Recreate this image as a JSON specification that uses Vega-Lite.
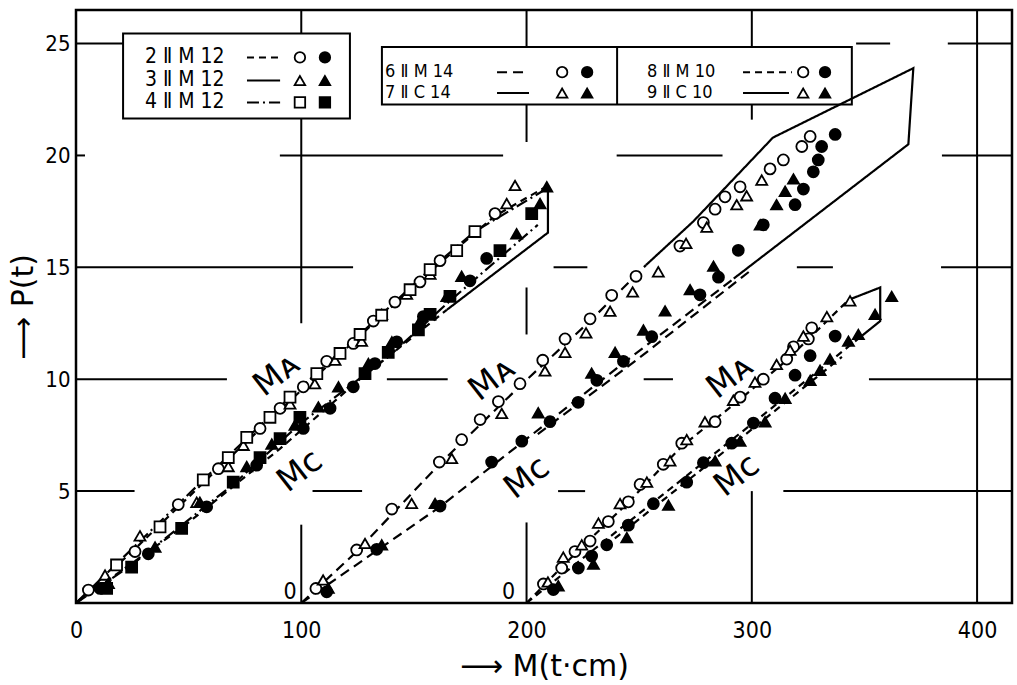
{
  "$schema": "https://vega.github.io/schema/vega-lite/v6.json",
  "width": 936,
  "height": 593,
  "autosize": "none",
  "padding": {"left": 76, "top": 10, "right": 5, "bottom": 82},
  "background": "white",
  "config": {
    "view": {"stroke": "black", "strokeWidth": 2.5},
    "font": "DejaVu Sans",
    "axis": {"labelFont": "DejaVu Sans Condensed, DejaVu Sans", "titleFont": "DejaVu Sans", "labelColor": "black", "titleColor": "black"}
  },
  "datasets": {
    "points": [
      {"x":5.5,"y":0.58,"series":"2","branch":"MA"},{"x":26.2,"y":2.3,"series":"2","branch":"MA"},{"x":45.4,"y":4.4,"series":"2","branch":"MA"},{"x":63.2,"y":6.0,"series":"2","branch":"MA"},{"x":81.7,"y":7.8,"series":"2","branch":"MA"},{"x":90.6,"y":8.7,"series":"2","branch":"MA"},{"x":100.9,"y":9.66,"series":"2","branch":"MA"},{"x":111.3,"y":10.8,"series":"2","branch":"MA"},{"x":123.1,"y":11.6,"series":"2","branch":"MA"},{"x":132,"y":12.6,"series":"2","branch":"MA"},{"x":141.6,"y":13.45,"series":"2","branch":"MA"},{"x":152.7,"y":14.35,"series":"2","branch":"MA"},{"x":161.6,"y":15.3,"series":"2","branch":"MA"},{"x":186,"y":17.4,"series":"2","branch":"MA"},
      {"x":12.9,"y":1.25,"series":"3","branch":"MA"},{"x":28.4,"y":3.0,"series":"3","branch":"MA"},{"x":53.6,"y":4.5,"series":"3","branch":"MA"},{"x":67.6,"y":6.1,"series":"3","branch":"MA"},{"x":74.3,"y":7.05,"series":"3","branch":"MA"},{"x":95,"y":8.9,"series":"3","branch":"MA"},{"x":106,"y":9.8,"series":"3","branch":"MA"},{"x":115,"y":10.85,"series":"3","branch":"MA"},{"x":126.8,"y":11.7,"series":"3","branch":"MA"},{"x":135.7,"y":12.9,"series":"3","branch":"MA"},{"x":146.8,"y":13.8,"series":"3","branch":"MA"},{"x":157.2,"y":14.7,"series":"3","branch":"MA"},{"x":191.2,"y":17.85,"series":"3","branch":"MA"},{"x":194.9,"y":18.66,"series":"3","branch":"MA"},
      {"x":18,"y":1.7,"series":"4","branch":"MA"},{"x":37.3,"y":3.4,"series":"4","branch":"MA"},{"x":56.5,"y":5.5,"series":"4","branch":"MA"},{"x":67.6,"y":6.5,"series":"4","branch":"MA"},{"x":75.8,"y":7.4,"series":"4","branch":"MA"},{"x":86.1,"y":8.3,"series":"4","branch":"MA"},{"x":95,"y":9.2,"series":"4","branch":"MA"},{"x":106.9,"y":10.25,"series":"4","branch":"MA"},{"x":117.2,"y":11.15,"series":"4","branch":"MA"},{"x":126.1,"y":12.0,"series":"4","branch":"MA"},{"x":135.7,"y":12.86,"series":"4","branch":"MA"},{"x":148.3,"y":14.0,"series":"4","branch":"MA"},{"x":157.2,"y":14.9,"series":"4","branch":"MA"},{"x":169,"y":15.75,"series":"4","branch":"MA"},{"x":177.1,"y":16.6,"series":"4","branch":"MA"},
      {"x":10.7,"y":0.65,"series":"2","branch":"MC"},{"x":32.1,"y":2.2,"series":"2","branch":"MC"},{"x":58,"y":4.3,"series":"2","branch":"MC"},{"x":80.2,"y":6.16,"series":"2","branch":"MC"},{"x":100.9,"y":7.8,"series":"2","branch":"MC"},{"x":112.8,"y":8.7,"series":"2","branch":"MC"},{"x":123.1,"y":9.66,"series":"2","branch":"MC"},{"x":132.7,"y":10.7,"series":"2","branch":"MC"},{"x":142.4,"y":11.67,"series":"2","branch":"MC"},{"x":154.2,"y":12.8,"series":"2","branch":"MC"},{"x":174.9,"y":14.4,"series":"2","branch":"MC"},{"x":182.3,"y":15.4,"series":"2","branch":"MC"},
      {"x":14.4,"y":0.88,"series":"3","branch":"MC"},{"x":35.1,"y":2.5,"series":"3","branch":"MC"},{"x":55,"y":4.5,"series":"3","branch":"MC"},{"x":75.8,"y":6.1,"series":"3","branch":"MC"},{"x":86.9,"y":7.1,"series":"3","branch":"MC"},{"x":97.2,"y":7.95,"series":"3","branch":"MC"},{"x":107.6,"y":8.76,"series":"3","branch":"MC"},{"x":116.5,"y":9.66,"series":"3","branch":"MC"},{"x":129.8,"y":10.7,"series":"3","branch":"MC"},{"x":140.2,"y":11.67,"series":"3","branch":"MC"},{"x":152.7,"y":12.6,"series":"3","branch":"MC"},{"x":164.6,"y":13.7,"series":"3","branch":"MC"},{"x":171.2,"y":14.6,"series":"3","branch":"MC"},{"x":195.6,"y":16.5,"series":"3","branch":"MC"},{"x":206,"y":17.85,"series":"3","branch":"MC"},{"x":209,"y":18.6,"series":"3","branch":"MC"},
      {"x":13.6,"y":0.65,"series":"4","branch":"MC"},{"x":24.7,"y":1.6,"series":"4","branch":"MC"},{"x":46.9,"y":3.33,"series":"4","branch":"MC"},{"x":69.8,"y":5.4,"series":"4","branch":"MC"},{"x":81.7,"y":6.5,"series":"4","branch":"MC"},{"x":90.6,"y":7.35,"series":"4","branch":"MC"},{"x":99.4,"y":8.3,"series":"4","branch":"MC"},{"x":128.3,"y":10.25,"series":"4","branch":"MC"},{"x":138.6,"y":11.2,"series":"4","branch":"MC"},{"x":152,"y":12.2,"series":"4","branch":"MC"},{"x":157.2,"y":12.9,"series":"4","branch":"MC"},{"x":166,"y":13.7,"series":"4","branch":"MC"},{"x":188.2,"y":15.75,"series":"4","branch":"MC"},{"x":202.3,"y":17.4,"series":"4","branch":"MC"},
      {"x":106.5,"y":0.65,"series":"6","branch":"MA"},{"x":124.6,"y":2.37,"series":"6","branch":"MA"},{"x":140.2,"y":4.2,"series":"6","branch":"MA"},{"x":161.3,"y":6.3,"series":"6","branch":"MA"},{"x":171.2,"y":7.3,"series":"6","branch":"MA"},{"x":179.4,"y":8.2,"series":"6","branch":"MA"},{"x":187.5,"y":9.0,"series":"6","branch":"MA"},{"x":197.1,"y":9.8,"series":"6","branch":"MA"},{"x":207.2,"y":10.85,"series":"6","branch":"MA"},{"x":217.1,"y":11.8,"series":"6","branch":"MA"},{"x":228.2,"y":12.7,"series":"6","branch":"MA"},{"x":237.8,"y":13.75,"series":"6","branch":"MA"},{"x":248.6,"y":14.6,"series":"6","branch":"MA"},{"x":268.1,"y":15.95,"series":"6","branch":"MA"},{"x":278.5,"y":17.0,"series":"6","branch":"MA"},{"x":283.7,"y":17.6,"series":"6","branch":"MA"},{"x":288.1,"y":18.15,"series":"6","branch":"MA"},{"x":294.8,"y":18.6,"series":"6","branch":"MA"},{"x":308.1,"y":19.4,"series":"6","branch":"MA"},{"x":314,"y":19.8,"series":"6","branch":"MA"},{"x":322.2,"y":20.4,"series":"6","branch":"MA"},{"x":325.9,"y":20.85,"series":"6","branch":"MA"},
      {"x":109.7,"y":1.03,"series":"7","branch":"MA"},{"x":128.3,"y":2.66,"series":"7","branch":"MA"},{"x":149,"y":4.45,"series":"7","branch":"MA"},{"x":166.8,"y":6.46,"series":"7","branch":"MA"},{"x":189,"y":8.47,"series":"7","branch":"MA"},{"x":208.2,"y":10.37,"series":"7","branch":"MA"},{"x":217.1,"y":11.2,"series":"7","branch":"MA"},{"x":226.4,"y":12.07,"series":"7","branch":"MA"},{"x":237.1,"y":13.04,"series":"7","branch":"MA"},{"x":247.1,"y":13.9,"series":"7","branch":"MA"},{"x":258.5,"y":14.8,"series":"7","branch":"MA"},{"x":270.8,"y":16.07,"series":"7","branch":"MA"},{"x":280,"y":16.8,"series":"7","branch":"MA"},{"x":293.3,"y":17.8,"series":"7","branch":"MA"},{"x":297.7,"y":18.2,"series":"7","branch":"MA"},{"x":304.4,"y":18.9,"series":"7","branch":"MA"},
      {"x":111.3,"y":0.5,"series":"6","branch":"MC"},{"x":133.5,"y":2.4,"series":"6","branch":"MC"},{"x":161.6,"y":4.33,"series":"6","branch":"MC"},{"x":184.5,"y":6.3,"series":"6","branch":"MC"},{"x":197.9,"y":7.23,"series":"6","branch":"MC"},{"x":210.4,"y":8.1,"series":"6","branch":"MC"},{"x":222.9,"y":8.97,"series":"6","branch":"MC"},{"x":231.2,"y":9.95,"series":"6","branch":"MC"},{"x":243,"y":10.8,"series":"6","branch":"MC"},{"x":255.6,"y":11.9,"series":"6","branch":"MC"},{"x":277,"y":13.77,"series":"6","branch":"MC"},{"x":285.2,"y":14.56,"series":"6","branch":"MC"},{"x":294,"y":15.76,"series":"6","branch":"MC"},{"x":305.1,"y":16.9,"series":"6","branch":"MC"},{"x":319.2,"y":17.8,"series":"6","branch":"MC"},{"x":322.9,"y":18.5,"series":"6","branch":"MC"},{"x":327.3,"y":19.27,"series":"6","branch":"MC"},{"x":329.5,"y":19.8,"series":"6","branch":"MC"},{"x":331,"y":20.4,"series":"6","branch":"MC"},{"x":337,"y":20.94,"series":"6","branch":"MC"},
      {"x":112,"y":0.66,"series":"7","branch":"MC"},{"x":135.7,"y":2.6,"series":"7","branch":"MC"},{"x":159.4,"y":4.45,"series":"7","branch":"MC"},{"x":205.2,"y":8.5,"series":"7","branch":"MC"},{"x":228.9,"y":10.27,"series":"7","branch":"MC"},{"x":239.3,"y":11.2,"series":"7","branch":"MC"},{"x":251.9,"y":12.2,"series":"7","branch":"MC"},{"x":261.5,"y":13.05,"series":"7","branch":"MC"},{"x":272.6,"y":14.0,"series":"7","branch":"MC"},{"x":283,"y":15.05,"series":"7","branch":"MC"},{"x":303.7,"y":16.9,"series":"7","branch":"MC"},{"x":311,"y":17.8,"series":"7","branch":"MC"},{"x":314.8,"y":18.4,"series":"7","branch":"MC"},{"x":318.5,"y":18.95,"series":"7","branch":"MC"},
      {"x":207.5,"y":0.85,"series":"8","branch":"MA"},{"x":215.6,"y":1.56,"series":"8","branch":"MA"},{"x":221.5,"y":2.3,"series":"8","branch":"MA"},{"x":228.2,"y":2.77,"series":"8","branch":"MA"},{"x":236.3,"y":3.64,"series":"8","branch":"MA"},{"x":245.2,"y":4.52,"series":"8","branch":"MA"},{"x":250.4,"y":5.3,"series":"8","branch":"MA"},{"x":260.7,"y":6.2,"series":"8","branch":"MA"},{"x":268.9,"y":7.14,"series":"8","branch":"MA"},{"x":283.7,"y":8.1,"series":"8","branch":"MA"},{"x":294.8,"y":9.2,"series":"8","branch":"MA"},{"x":305.1,"y":10.0,"series":"8","branch":"MA"},{"x":315.5,"y":10.9,"series":"8","branch":"MA"},{"x":318.5,"y":11.45,"series":"8","branch":"MA"},{"x":325.1,"y":11.8,"series":"8","branch":"MA"},{"x":326.6,"y":12.3,"series":"8","branch":"MA"},
      {"x":209.5,"y":0.94,"series":"9","branch":"MA"},{"x":216.3,"y":2.05,"series":"9","branch":"MA"},{"x":224.5,"y":2.6,"series":"9","branch":"MA"},{"x":231.9,"y":3.57,"series":"9","branch":"MA"},{"x":241.5,"y":4.44,"series":"9","branch":"MA"},{"x":253.4,"y":5.4,"series":"9","branch":"MA"},{"x":263.7,"y":6.35,"series":"9","branch":"MA"},{"x":271.1,"y":7.3,"series":"9","branch":"MA"},{"x":279.2,"y":8.1,"series":"9","branch":"MA"},{"x":291.8,"y":9.06,"series":"9","branch":"MA"},{"x":301.4,"y":9.87,"series":"9","branch":"MA"},{"x":311,"y":10.66,"series":"9","branch":"MA"},{"x":317,"y":11.3,"series":"9","branch":"MA"},{"x":322.9,"y":11.93,"series":"9","branch":"MA"},{"x":333.3,"y":12.8,"series":"9","branch":"MA"},{"x":343.6,"y":13.5,"series":"9","branch":"MA"},
      {"x":211.9,"y":0.6,"series":"8","branch":"MC"},{"x":223,"y":1.56,"series":"8","branch":"MC"},{"x":228.9,"y":2.1,"series":"8","branch":"MC"},{"x":235.6,"y":2.6,"series":"8","branch":"MC"},{"x":245.2,"y":3.48,"series":"8","branch":"MC"},{"x":256.3,"y":4.44,"series":"8","branch":"MC"},{"x":271.1,"y":5.4,"series":"8","branch":"MC"},{"x":278.5,"y":6.27,"series":"8","branch":"MC"},{"x":291.1,"y":7.14,"series":"8","branch":"MC"},{"x":300.7,"y":8.04,"series":"8","branch":"MC"},{"x":310.3,"y":9.15,"series":"8","branch":"MC"},{"x":319.2,"y":10.18,"series":"8","branch":"MC"},{"x":325.9,"y":11.05,"series":"8","branch":"MC"},{"x":337,"y":11.93,"series":"8","branch":"MC"},
      {"x":214.1,"y":0.77,"series":"9","branch":"MC"},{"x":229.7,"y":1.74,"series":"9","branch":"MC"},{"x":244.5,"y":2.92,"series":"9","branch":"MC"},{"x":263,"y":4.37,"series":"9","branch":"MC"},{"x":283.7,"y":6.35,"series":"9","branch":"MC"},{"x":294.8,"y":7.23,"series":"9","branch":"MC"},{"x":305.9,"y":8.1,"series":"9","branch":"MC"},{"x":314.8,"y":9.15,"series":"9","branch":"MC"},{"x":325.9,"y":9.95,"series":"9","branch":"MC"},{"x":330.3,"y":10.4,"series":"9","branch":"MC"},{"x":334.7,"y":10.9,"series":"9","branch":"MC"},{"x":342.9,"y":11.7,"series":"9","branch":"MC"},{"x":347.3,"y":12.0,"series":"9","branch":"MC"},{"x":354.7,"y":12.9,"series":"9","branch":"MC"},{"x":362.1,"y":13.7,"series":"9","branch":"MC"}
    ],
    "curves": [
      {"curve":"A-MA-2","series":"2","i":0,"x":0,"y":0},{"curve":"A-MA-2","series":"2","i":1,"x":26,"y":2.4},{"curve":"A-MA-2","series":"2","i":2,"x":63,"y":6.0},{"curve":"A-MA-2","series":"2","i":3,"x":101,"y":9.6},{"curve":"A-MA-2","series":"2","i":4,"x":132,"y":12.5},{"curve":"A-MA-2","series":"2","i":5,"x":161.6,"y":15.2},{"curve":"A-MA-2","series":"2","i":6,"x":186,"y":17.3},{"curve":"A-MA-2","series":"2","i":7,"x":209.5,"y":18.65},
      {"curve":"A-MA-4","series":"4","i":0,"x":0,"y":0},{"curve":"A-MA-4","series":"4","i":1,"x":18,"y":1.75},{"curve":"A-MA-4","series":"4","i":2,"x":56.5,"y":5.5},{"curve":"A-MA-4","series":"4","i":3,"x":95,"y":9.2},{"curve":"A-MA-4","series":"4","i":4,"x":126,"y":12.0},{"curve":"A-MA-4","series":"4","i":5,"x":157,"y":14.9},{"curve":"A-MA-4","series":"4","i":6,"x":177,"y":16.6},{"curve":"A-MA-4","series":"4","i":7,"x":209.5,"y":18.55},
      {"curve":"A-MC-2","series":"2","i":0,"x":0,"y":0},{"curve":"A-MC-2","series":"2","i":1,"x":47.5,"y":3.4},{"curve":"A-MC-2","series":"2","i":2,"x":90.6,"y":6.9},{"curve":"A-MC-2","series":"2","i":3,"x":126,"y":10.0},{"curve":"A-MC-2","series":"2","i":4,"x":164.6,"y":13.1},
      {"curve":"A-MC-4","series":"4","i":0,"x":0,"y":0},{"curve":"A-MC-4","series":"4","i":1,"x":24.7,"y":1.7},{"curve":"A-MC-4","series":"4","i":2,"x":69.8,"y":5.3},{"curve":"A-MC-4","series":"4","i":3,"x":99.4,"y":8.0},{"curve":"A-MC-4","series":"4","i":4,"x":138.6,"y":11.0},{"curve":"A-MC-4","series":"4","i":5,"x":166,"y":13.5},{"curve":"A-MC-4","series":"4","i":6,"x":205,"y":16.9},
      {"curve":"A-env-3","series":"3","i":0,"x":164.6,"y":13.1},{"curve":"A-env-3","series":"3","i":1,"x":209.5,"y":16.55},{"curve":"A-env-3","series":"3","i":2,"x":209.5,"y":18.65},
      {"curve":"B-MA-6","series":"6","i":0,"x":100,"y":0},{"curve":"B-MA-6","series":"6","i":1,"x":124.6,"y":2.3},{"curve":"B-MA-6","series":"6","i":2,"x":161.3,"y":6.2},{"curve":"B-MA-6","series":"6","i":3,"x":197.1,"y":9.7},{"curve":"B-MA-6","series":"6","i":4,"x":228.2,"y":12.6},{"curve":"B-MA-6","series":"6","i":5,"x":253,"y":15.1},
      {"curve":"B-env-7","series":"7","i":0,"x":253,"y":15.1},{"curve":"B-env-7","series":"7","i":1,"x":274,"y":17.05},{"curve":"B-env-7","series":"7","i":2,"x":309.4,"y":20.8},{"curve":"B-env-7","series":"7","i":3,"x":371.7,"y":23.9},{"curve":"B-env-7","series":"7","i":4,"x":369.5,"y":20.5},{"curve":"B-env-7","series":"7","i":5,"x":292,"y":14.5},
      {"curve":"B-MC-6","series":"6","i":0,"x":100,"y":0},{"curve":"B-MC-6","series":"6","i":1,"x":161.6,"y":4.3},{"curve":"B-MC-6","series":"6","i":2,"x":211,"y":8.2},{"curve":"B-MC-6","series":"6","i":3,"x":244,"y":10.8},{"curve":"B-MC-6","series":"6","i":4,"x":292,"y":14.5},
      {"curve":"B-MC-6b","series":"6","i":0,"x":205,"y":7.55},{"curve":"B-MC-6b","series":"6","i":1,"x":250,"y":10.95},{"curve":"B-MC-6b","series":"6","i":2,"x":300,"y":14.9},
      {"curve":"C-MA-8","series":"8","i":0,"x":200,"y":0},{"curve":"C-MA-8","series":"8","i":1,"x":221.5,"y":2.2},{"curve":"C-MA-8","series":"8","i":2,"x":245.2,"y":4.5},{"curve":"C-MA-8","series":"8","i":3,"x":268.9,"y":7.0},{"curve":"C-MA-8","series":"8","i":4,"x":294.8,"y":9.1},{"curve":"C-MA-8","series":"8","i":5,"x":315.5,"y":10.85},{"curve":"C-MA-8","series":"8","i":6,"x":343,"y":13.55},
      {"curve":"C-env-9","series":"9","i":0,"x":343,"y":13.55},{"curve":"C-env-9","series":"9","i":1,"x":357,"y":14.1},{"curve":"C-env-9","series":"9","i":2,"x":357,"y":12.6},{"curve":"C-env-9","series":"9","i":3,"x":349,"y":11.95},
      {"curve":"C-MC-8","series":"8","i":0,"x":200,"y":0},{"curve":"C-MC-8","series":"8","i":1,"x":250,"y":4.0},{"curve":"C-MC-8","series":"8","i":2,"x":300,"y":8.0},{"curve":"C-MC-8","series":"8","i":3,"x":349,"y":11.95},
      {"curve":"C-MC-8b","series":"8","i":0,"x":235,"y":2.55},{"curve":"C-MC-8b","series":"8","i":1,"x":290,"y":6.95},{"curve":"C-MC-8b","series":"8","i":2,"x":340,"y":11.0}
    ],
    "hgrid": [
      {"y":25,"x":0,"x2":20.9},{"y":25,"x":346.3,"x2":361.4},{"y":25,"x":387,"x2":415.5},
      {"y":20,"x":0,"x2":4},{"y":20,"x":90.5,"x2":189.6},{"y":20,"x":240,"x2":287},{"y":20,"x":384.4,"x2":415.5},
      {"y":15,"x":0,"x2":123},{"y":15,"x":212,"x2":227},{"y":15,"x":320,"x2":336},{"y":15,"x":384,"x2":415.5},
      {"y":10,"x":0,"x2":67},{"y":10,"x":138,"x2":165},{"y":10,"x":252,"x2":265},{"y":10,"x":352,"x2":415.5},
      {"y":5,"x":0,"x2":26},{"y":5,"x":105,"x2":127},{"y":5,"x":214,"x2":226},{"y":5,"x":314,"x2":415.5}
    ],
    "vgrid": [
      {"x":100,"y":12.5,"y2":26.5},{"x":100,"y":0,"y2":3.5},
      {"x":200,"y":20.6,"y2":26.5},{"x":200,"y":12.0,"y2":14.1},{"x":200,"y":0,"y2":3.6},
      {"x":300,"y":24.8,"y2":26.5},{"x":300,"y":21.6,"y2":22.3},{"x":300,"y":0,"y2":5},
      {"x":400,"y":0,"y2":26.5}
    ],
    "boxes": [
      {"x":20.9,"x2":121.6,"y":21.65,"y2":25.45},
      {"x":135.8,"x2":344.4,"y":22.28,"y2":24.85}
    ],
    "dividers": [{"x":240.2,"y":22.28,"y2":24.85}],
    "branchLabels": [
      {"x":89.1,"y":10.2,"text":"Mᴀ"},{"x":99.4,"y":5.9,"text":"Mᴄ"},
      {"x":184.7,"y":10.0,"text":"Mᴀ"},{"x":200.2,"y":5.6,"text":"Mᴄ"},
      {"x":290.3,"y":10.1,"text":"Mᴀ"},{"x":293.4,"y":5.7,"text":"Mᴄ"}
    ],
    "zeroLabels": [{"x":95,"y":0.5,"text":"0"},{"x":192,"y":0.5,"text":"0"}],
    "legendText": [
      {"x":30.6,"y":24.38,"text":"2 Ⅱ M 12"},{"x":30.6,"y":23.35,"text":"3 Ⅱ M 12"},{"x":30.6,"y":22.37,"text":"4 Ⅱ M 12"}
    ],
    "legendText2": [
      {"x":137.2,"y":23.72,"text":"6  Ⅱ M 14"},{"x":137.2,"y":22.79,"text":"7  Ⅱ C 14"},
      {"x":253.5,"y":23.72,"text":"8 Ⅱ M 10"},{"x":253.5,"y":22.79,"text":"9 Ⅱ C 10"}
    ],
    "legendLines": [
      {"curve":"L2","series":"2","i":0,"x":75.9,"y":24.38},{"curve":"L2","series":"2","i":1,"x":90.6,"y":24.38},
      {"curve":"L3","series":"3","i":0,"x":75.9,"y":23.35},{"curve":"L3","series":"3","i":1,"x":90.6,"y":23.35},
      {"curve":"L4","series":"4","i":0,"x":75.9,"y":22.37},{"curve":"L4","series":"4","i":1,"x":90.6,"y":22.37},
      {"curve":"L6","series":"6","i":0,"x":186.9,"y":23.72},{"curve":"L6","series":"6","i":1,"x":201.1,"y":23.72},
      {"curve":"L7","series":"7","i":0,"x":186.9,"y":22.79},{"curve":"L7","series":"7","i":1,"x":201.1,"y":22.79},
      {"curve":"L8","series":"8","i":0,"x":296.1,"y":23.72},{"curve":"L8","series":"8","i":1,"x":317.8,"y":23.72},
      {"curve":"L9","series":"9","i":0,"x":296.1,"y":22.79},{"curve":"L9","series":"9","i":1,"x":316.5,"y":22.79}
    ],
    "legendMarks": [
      {"x":99.4,"y":24.38,"series":"2","branch":"MA"},{"x":110.5,"y":24.38,"series":"2","branch":"MC"},
      {"x":99.4,"y":23.35,"series":"3","branch":"MA"},{"x":110.5,"y":23.35,"series":"3","branch":"MC"},
      {"x":99.4,"y":22.37,"series":"4","branch":"MA"},{"x":110.5,"y":22.37,"series":"4","branch":"MC"},
      {"x":215.8,"y":23.72,"series":"6","branch":"MA"},{"x":226.9,"y":23.72,"series":"6","branch":"MC"},
      {"x":215.8,"y":22.79,"series":"7","branch":"MA"},{"x":226.9,"y":22.79,"series":"7","branch":"MC"},
      {"x":322.8,"y":23.72,"series":"8","branch":"MA"},{"x":332.5,"y":23.72,"series":"8","branch":"MC"},
      {"x":322.8,"y":22.79,"series":"9","branch":"MA"},{"x":332.5,"y":22.79,"series":"9","branch":"MC"}
    ]
  },
  "encoding": {
    "x": {
      "field": "x", "type": "quantitative",
      "scale": {"domain": [0, 415.5], "nice": false, "zero": false},
      "axis": {"values": [0, 100, 200, 300, 400], "ticks": false, "domain": false, "grid": false, "labelFontSize": 23, "labelPadding": 16, "labelFlush": false, "labelOverlap": false, "title": "⟶ M(t·cm)", "titleFontSize": 30, "titleFontWeight": "normal", "titlePadding": 9}
    },
    "y": {
      "field": "y", "type": "quantitative",
      "scale": {"domain": [0, 26.5], "nice": false, "zero": false},
      "axis": {"values": [5, 10, 15, 20, 25], "ticks": false, "domain": false, "grid": false, "labelFontSize": 22, "labelPadding": 6, "labelFlush": false, "title": "⟶ P(t)", "titleFontSize": 30, "titleFontWeight": "normal", "titlePadding": 6}
    }
  },
  "layer": [
    {"data": {"name": "vgrid"}, "mark": {"type": "rule", "color": "black", "strokeWidth": 2}, "encoding": {"y2": {"field": "y2"}}},
    {"data": {"name": "hgrid"}, "mark": {"type": "rule", "color": "black", "strokeWidth": 2}, "encoding": {"x2": {"field": "x2"}}},
    {"data": {"name": "boxes"}, "mark": {"type": "rect", "fill": "white", "stroke": "black", "strokeWidth": 2}, "encoding": {"x2": {"field": "x2"}, "y2": {"field": "y2"}}},
    {"data": {"name": "dividers"}, "mark": {"type": "rule", "color": "black", "strokeWidth": 2}, "encoding": {"y2": {"field": "y2"}}},
    {"data": {"name": "curves"}, "mark": {"type": "line", "color": "black", "strokeWidth": 2.2},
     "encoding": {"detail": {"field": "curve"}, "order": {"field": "i", "type": "quantitative"},
       "strokeDash": {"field": "series", "type": "nominal", "legend": null, "scale": {"domain": ["2","3","4","6","7","8","9"], "range": [[7,5],[1,0],[12,4,2,4],[10,6],[1,0],[7,5],[1,0]]}}}},
    {"data": {"name": "legendLines"}, "mark": {"type": "line", "color": "black", "strokeWidth": 2},
     "encoding": {"detail": {"field": "curve"}, "order": {"field": "i", "type": "quantitative"},
       "strokeDash": {"field": "series", "type": "nominal", "legend": null, "scale": {"domain": ["2","3","4","6","7","8","9"], "range": [[4,3],[1,0],[7,3,2,3],[4,3],[1,0],[4,3],[1,0]]}}}},
    {"data": {"name": "points"}, "mark": {"type": "point", "filled": true, "stroke": "black", "strokeWidth": 1.8, "size": 120, "opacity": 1},
     "encoding": {
       "shape": {"field": "series", "type": "nominal", "legend": null, "scale": {"domain": ["2","3","4","6","7","8","9"], "range": ["circle","triangle-up","square","circle","triangle-up","circle","triangle-up"]}},
       "fill": {"field": "branch", "type": "nominal", "legend": null, "scale": {"domain": ["MA","MC"], "range": ["white","black"]}}}},
    {"data": {"name": "legendMarks"}, "mark": {"type": "point", "filled": true, "stroke": "black", "strokeWidth": 1.8, "size": 110, "opacity": 1},
     "encoding": {
       "shape": {"field": "series", "type": "nominal", "legend": null},
       "fill": {"field": "branch", "type": "nominal", "legend": null}}},
    {"data": {"name": "branchLabels"}, "mark": {"type": "text", "fontSize": 33, "angle": -38, "font": "DejaVu Sans", "color": "black", "align": "center", "baseline": "middle"}, "encoding": {"text": {"field": "text"}}},
    {"data": {"name": "zeroLabels"}, "mark": {"type": "text", "fontSize": 23, "font": "DejaVu Sans Condensed, DejaVu Sans", "color": "black", "align": "center", "baseline": "middle"}, "encoding": {"text": {"field": "text"}}},
    {"data": {"name": "legendText"}, "mark": {"type": "text", "fontSize": 21, "font": "DejaVu Sans Condensed, DejaVu Sans", "color": "black", "align": "left", "baseline": "middle"}, "encoding": {"text": {"field": "text"}}},
    {"data": {"name": "legendText2"}, "mark": {"type": "text", "fontSize": 18, "font": "DejaVu Sans Condensed, DejaVu Sans", "color": "black", "align": "left", "baseline": "middle"}, "encoding": {"text": {"field": "text"}}}
  ]
}
